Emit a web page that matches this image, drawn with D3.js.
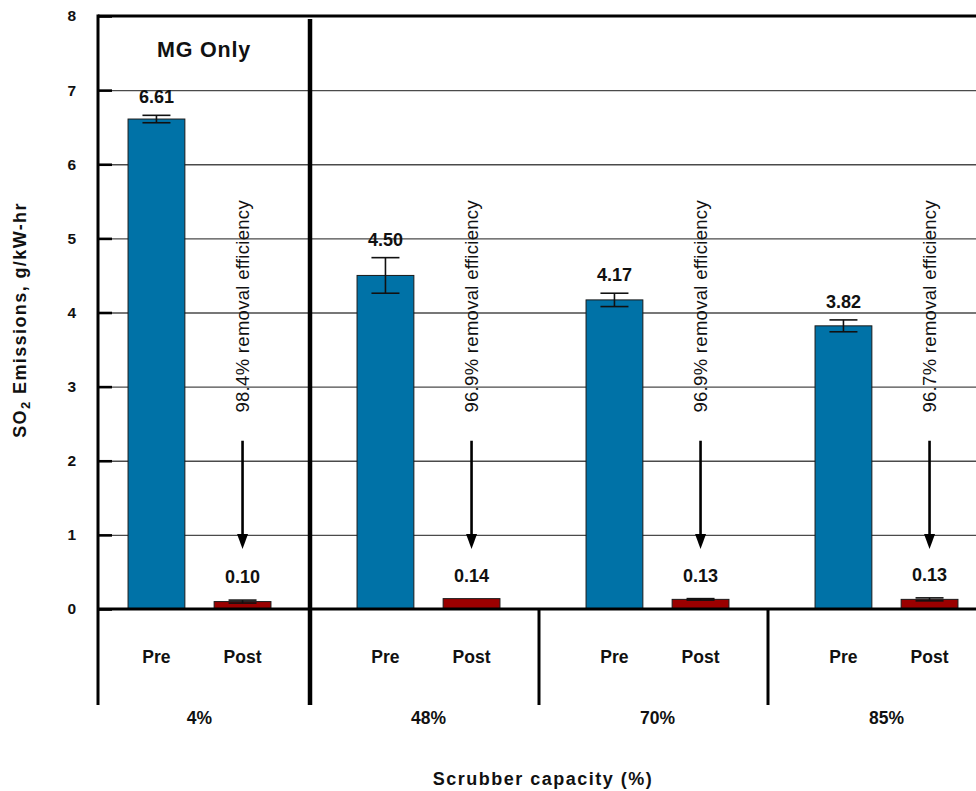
<!DOCTYPE html>
<html>
<head>
<meta charset="utf-8">
<script src="https://cdn.jsdelivr.net/npm/d3@7"></script>
<style>
  html, body { margin: 0; padding: 0; background: #fff; }
  svg { display: block; font-family: "Liberation Sans", Arial, sans-serif; }
</style>
</head>
<body>
<svg id="chart" width="976" height="791"></svg>
<script>
// Scrubber capacity groups and the two sampling points in each
const groups = ["4%", "48%", "70%", "85%"];
const stages = ["Pre", "Post"];

// SO2 emissions (g/kW-hr) before and after the scrubber, with error bars
const preValues  = [6.61, 4.50, 4.17, 3.82];
const preErrors  = [0.05, 0.24, 0.09, 0.08];
const postValues = [0.10, 0.14, 0.13, 0.13];
const postErrors = [0.02, 0.00, 0.01, 0.02];

const removalLabels = [
  "98.4% removal efficiency",
  "96.9% removal efficiency",
  "96.9% removal efficiency",
  "96.7% removal efficiency"
];

const yTicks = [0, 1, 2, 3, 4, 5, 6, 7, 8];
const gridTicks = [1, 2, 3, 4, 5, 6, 7];

const colors = { Pre: "#0072a7", Post: "#9b0000" };

const bars = [];
groups.forEach((g, i) => {
  bars.push({ group: g, stage: "Pre",  value: preValues[i],  err: preErrors[i] });
  bars.push({ group: g, stage: "Post", value: postValues[i], err: postErrors[i] });
});

const svg = d3.select("#chart");
const W = 976;
const axisX = 98, plotTop = 16, plotBottom = 609, frameBottom = 705;

const y = d3.scaleLinear().domain([0, 8]).range([plotBottom, plotTop]);
const gx = d3.scaleBand().domain(groups).range([85, 1001]).padding(0);
const sx = d3.scaleBand().domain(stages).range([0, gx.bandwidth()])
  .paddingInner(0.34).paddingOuter(0.5);
const cx = d => gx(d.group) + sx(d.stage) + sx.bandwidth() / 2;

// horizontal gridlines
svg.append("g")
  .attr("transform", `translate(${axisX},0)`)
  .call(d3.axisLeft(y).tickValues(gridTicks).tickSize(-(W - axisX)).tickFormat(""))
  .call(g => g.select(".domain").remove())
  .call(g => g.selectAll("line").attr("stroke", "#4a4a4a").attr("stroke-width", 1.4));

// bars
svg.append("g").selectAll("rect").data(bars).join("rect")
  .attr("x", d => gx(d.group) + sx(d.stage))
  .attr("width", sx.bandwidth())
  .attr("y", d => y(d.value))
  .attr("height", d => y(0) - y(d.value))
  .attr("fill", d => colors[d.stage])
  .attr("stroke", "#1a1a1a")
  .attr("stroke-width", 1);

// error bars
const eb = svg.append("g").attr("stroke", "#111").attr("stroke-width", 1.6);
bars.filter(d => d.err > 0).forEach(d => {
  const x = cx(d), hw = 14;
  eb.append("line").attr("x1", x).attr("x2", x).attr("y1", y(d.value + d.err)).attr("y2", y(d.value - d.err));
  eb.append("line").attr("x1", x - hw).attr("x2", x + hw).attr("y1", y(d.value + d.err)).attr("y2", y(d.value + d.err));
  eb.append("line").attr("x1", x - hw).attr("x2", x + hw).attr("y1", y(d.value - d.err)).attr("y2", y(d.value - d.err));
});

// value labels
svg.append("g").selectAll("text").data(bars).join("text")
  .attr("x", cx)
  .attr("y", d => y(d.value + d.err) - (d.stage === "Pre" ? 12 : 17))
  .attr("text-anchor", "middle")
  .attr("font-size", 18).attr("font-weight", "bold").attr("fill", "#111")
  .text(d => d.value.toFixed(2));

// removal-efficiency arrows and notes
const notes = svg.append("g");
groups.forEach((g, i) => {
  const x = gx(g) + sx("Post") + sx.bandwidth() / 2;
  const yTop = y(2.27), yTip = y(0.81);
  notes.append("line").attr("x1", x).attr("x2", x).attr("y1", yTop).attr("y2", yTip - 12)
    .attr("stroke", "#000").attr("stroke-width", 2.6);
  notes.append("path")
    .attr("d", `M${x - 5.5},${yTip - 15} L${x + 5.5},${yTip - 15} L${x},${yTip} Z`)
    .attr("fill", "#000");
  notes.append("text")
    .attr("transform", `translate(${x + 6.5},${y(2.65)}) rotate(-90)`)
    .attr("font-size", 18.5).attr("fill", "#111").attr("letter-spacing", 0.3)
    .text(removalLabels[i]);
});

// y axis tick stubs and labels
svg.append("g")
  .attr("transform", `translate(${axisX},0)`)
  .call(d3.axisLeft(y).tickValues(yTicks).tickSize(-14).tickPadding(22).tickFormat(d3.format("d")))
  .call(g => g.select(".domain").remove())
  .call(g => g.selectAll("line").attr("stroke", "#000").attr("stroke-width", 2.6))
  .call(g => g.selectAll("text").attr("font-size", 15.5).attr("font-weight", "bold")
    .attr("fill", "#111").attr("font-family", "Liberation Sans, Arial, sans-serif"));

// frame: top border, zero line, left axis, group separators
const frame = svg.append("g").attr("stroke", "#000");
frame.append("line").attr("x1", axisX).attr("x2", W).attr("y1", plotTop).attr("y2", plotTop).attr("stroke-width", 3);
frame.append("line").attr("x1", axisX).attr("x2", W).attr("y1", y(0)).attr("y2", y(0)).attr("stroke-width", 3);
frame.append("line").attr("x1", axisX).attr("x2", axisX).attr("y1", plotTop - 1.5).attr("y2", frameBottom).attr("stroke-width", 3);
groups.slice(1).forEach((g, i) => {
  const x = gx(g) - 4;
  if (i === 0) {
    frame.append("line").attr("x1", x).attr("x2", x).attr("y1", plotTop + 3).attr("y2", frameBottom).attr("stroke-width", 4.5);
  } else {
    frame.append("line").attr("x1", x).attr("x2", x).attr("y1", y(0)).attr("y2", frameBottom).attr("stroke-width", 3);
  }
});

// category labels under the axis
svg.append("g").selectAll("text").data(bars).join("text")
  .attr("x", cx).attr("y", 663)
  .attr("text-anchor", "middle")
  .attr("font-size", 17.5).attr("font-weight", "bold").attr("fill", "#111")
  .text(d => d.stage);

svg.append("g").selectAll("text").data(groups).join("text")
  .attr("x", g => gx(g) + gx.bandwidth() / 2).attr("y", 724)
  .attr("text-anchor", "middle")
  .attr("font-size", 17.5).attr("font-weight", "bold").attr("fill", "#111")
  .text(g => g);

// "MG Only" panel title
svg.append("text")
  .attr("x", (axisX + gx(groups[1]) - 4) / 2).attr("y", 57)
  .attr("text-anchor", "middle")
  .attr("font-size", 21.5).attr("font-weight", "bold").attr("fill", "#111").attr("letter-spacing", 0.8)
  .text("MG Only");

// axis titles
svg.append("text")
  .attr("x", (gx.range()[0] + gx.range()[1]) / 2).attr("y", 785)
  .attr("text-anchor", "middle")
  .attr("font-size", 18).attr("font-weight", "bold").attr("fill", "#111").attr("letter-spacing", 1.5)
  .text("Scrubber capacity (%)");

const yt = svg.append("text")
  .attr("transform", "translate(26,320) rotate(-90)")
  .attr("text-anchor", "middle")
  .attr("font-size", 18).attr("font-weight", "bold").attr("fill", "#111").attr("letter-spacing", 1.4);
yt.append("tspan").text("SO");
yt.append("tspan").attr("font-size", 13).attr("dy", 4).text("2");
yt.append("tspan").attr("dy", -4).text(" Emissions, g/kW-hr");
</script>
</body>
</html>
